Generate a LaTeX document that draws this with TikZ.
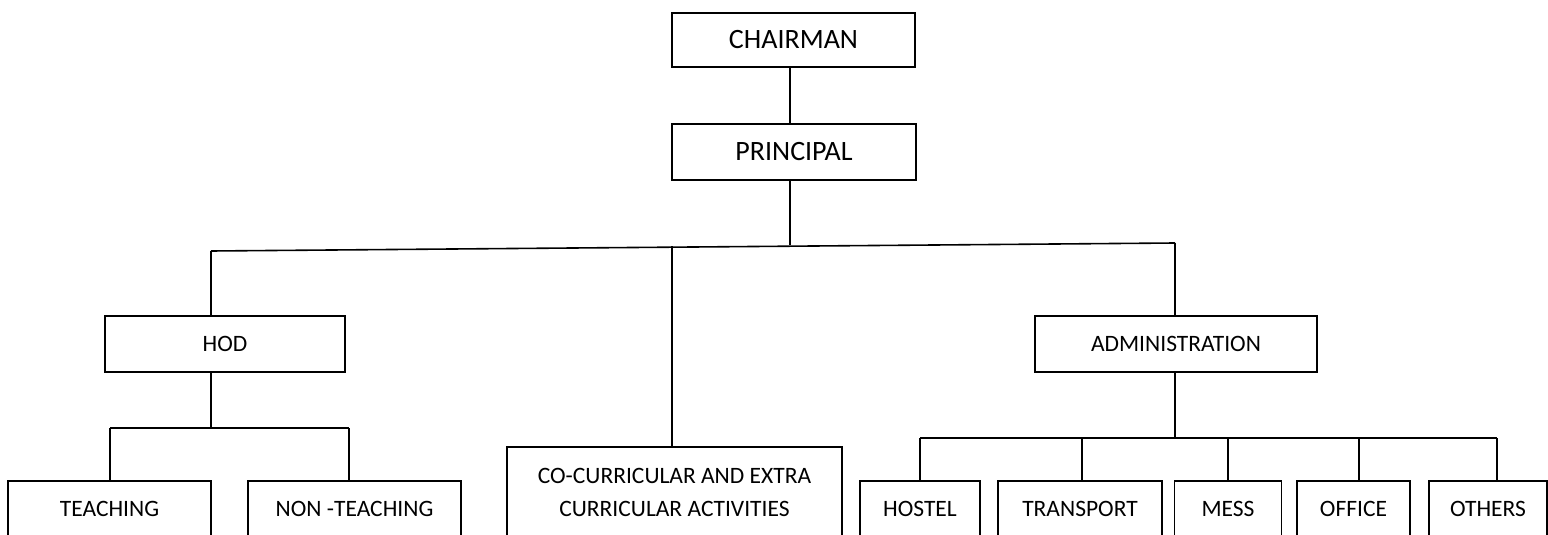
\documentclass[tikz,border=0pt]{standalone}
\usepackage{fontspec}
\setmainfont{Carlito}
\begin{document}
\begin{tikzpicture}[x=1pt,y=-1pt,
  box/.style={draw,line width=1.6pt,rectangle,inner sep=0pt,font=\fontsize{23.5}{33}\selectfont,align=center},
  bigbox/.style={box,font=\fontsize{28}{34}\selectfont},
  conn/.style={line width=1.6pt}]
\useasboundingbox (0,0) rectangle (1548,535);
\clip (0,0) rectangle (1548,535);
% top
\node[bigbox,minimum width=243pt,minimum height=54pt] (chair) at (793.5,40) {CHAIRMAN};
\node[bigbox,minimum width=244pt,minimum height=56pt] (prin) at (794,152) {PRINCIPAL};
% level 2
\node[box,minimum width=240pt,minimum height=56pt] (hod) at (225,344) {HOD};
\node[box,minimum width=282pt,minimum height=56pt] (admin) at (1176,344) {ADMINISTRATION};
\node[box,minimum width=335pt,minimum height=90pt] (cocur) at (674.5,492) {CO-CURRICULAR AND EXTRA\\CURRICULAR ACTIVITIES};
% level 3
\node[box,minimum width=203pt,minimum height=56pt] (teach) at (109.5,509) {TEACHING};
\node[box,minimum width=213pt,minimum height=56pt] (nonteach) at (354.5,509) {NON -TEACHING};
\node[box,minimum width=120pt,minimum height=56pt] (hostel) at (920,509) {HOSTEL};
\node[box,minimum width=164pt,minimum height=56pt] (transport) at (1080,509) {TRANSPORT};
\node[box,minimum width=107pt,minimum height=56pt] (mess) at (1228,509) {MESS};
\node[box,minimum width=113pt,minimum height=56pt] (office) at (1353.5,509) {OFFICE};
\node[box,minimum width=118pt,minimum height=56pt] (others) at (1488,509) {OTHERS};
% bus coordinates
\coordinate (busL) at (211,251);
\coordinate (busP) at (790,245);
\coordinate (busC) at (672,246);
\coordinate (busR) at (1175,243);
\coordinate (hbus) at (211,428);
\coordinate (hbL) at (110,428);
\coordinate (hbR) at (349,428);
\coordinate (abus) at (1175,438);
\coordinate (abL) at (920,438);
\coordinate (abT) at (1082,438);
\coordinate (abM) at (1228,438);
\coordinate (abO) at (1359,438);
\coordinate (abR) at (1497,438);
% connectors
\draw[conn] (chair.south -| busP) -- (prin.north -| busP);
\draw[conn] (prin.south -| busP) -- (busP);
\draw[conn] (busL) -- (busR);
\draw[conn] (busL) -- (busL |- hod.north);
\draw[conn] (busC) -- (busC |- cocur.north);
\draw[conn] (busR) -- (busR |- admin.north);
\draw[conn] (hod.south -| hbus) -- (hbus);
\draw[conn] (hbL) -- (hbR);
\draw[conn] (hbL) -- (hbL |- teach.north);
\draw[conn] (hbR) -- (hbR |- nonteach.north);
\draw[conn] (admin.south -| abus) -- (abus);
\draw[conn] (abL) -- (abR);
\draw[conn] (abL) -- (abL |- hostel.north);
\draw[conn] (abT) -- (abT |- transport.north);
\draw[conn] (abM) -- (abM |- mess.north);
\draw[conn] (abO) -- (abO |- office.north);
\draw[conn] (abR) -- (abR |- others.north);
\end{tikzpicture}
\end{document}
